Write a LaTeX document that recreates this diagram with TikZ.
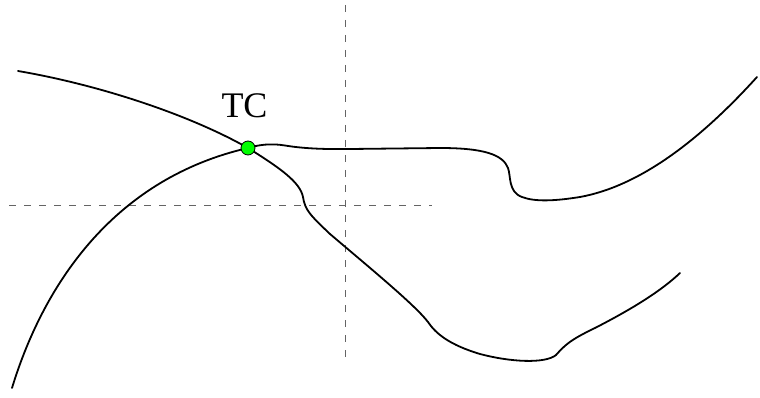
\documentclass[tikz,border=0pt]{standalone}
\usepackage{fontspec}
\setmainfont{Liberation Serif}
\begin{document}
\begin{tikzpicture}[x=1pt,y=-1pt,
  curve/.style={line width=1.8pt,black,line join=round,line cap=round},
  guide/.style={line width=1pt,draw={rgb,255:red,100;green,100;blue,100},dash pattern=on 7pt off 8pt},
  point/.style={circle,draw=black,line width=0.8pt,fill={rgb,255:red,0;green,255;blue,0},minimum size=14pt,inner sep=0pt}]
\useasboundingbox (0,0) rectangle (760,398);
% axes
\coordinate (vtop) at (345,5);
\coordinate (vbot) at (345,362);
\coordinate (hl) at (9,205.5);
\coordinate (hr) at (432,205.5);
\draw[guide] (vtop) -- (vbot);
\draw[guide] (hl) -- (hr);
% tangency point
\coordinate (t) at (248,148);
% first branch: from the upper left, through TC, down to the lower right
\draw[curve] (18,71) .. controls (100,85) and (190,115) .. (t);
\draw[curve] (t) .. controls (280,168) and (300,182) .. (303,197)
  .. controls (305,210) and (310,215) .. (330,234)
  .. controls (370,268) and (415,305) .. (428,322)
  .. controls (436,334) and (450,345) .. (480,354)
  .. controls (510,362) and (545,364) .. (556,355)
  .. controls (565,345) and (570,340) .. (595,328)
  .. controls (630,310) and (660,292) .. (680,273);
% second branch: from the lower left, through TC, to the upper right
\draw[curve] (12,388) .. controls (45,280) and (117,178) .. (t);
\draw[curve] (t) .. controls (258,145) and (270,143) .. (285,145.5)
  .. controls (300,148) and (320,149.5) .. (350,149) -- (440,148)
  .. controls (485,148) and (503,155) .. (508,168)
  .. controls (511,176) and (508,192) .. (522,197)
  .. controls (535,202) and (555,201) .. (580,197)
  .. controls (640,186) and (700,140) .. (757,77);
\node[point] (tc) at (t) {};
\node[font=\fontsize{36}{40}\selectfont] (tclabel) at (244.5,106) {TC};
\end{tikzpicture}
\end{document}
